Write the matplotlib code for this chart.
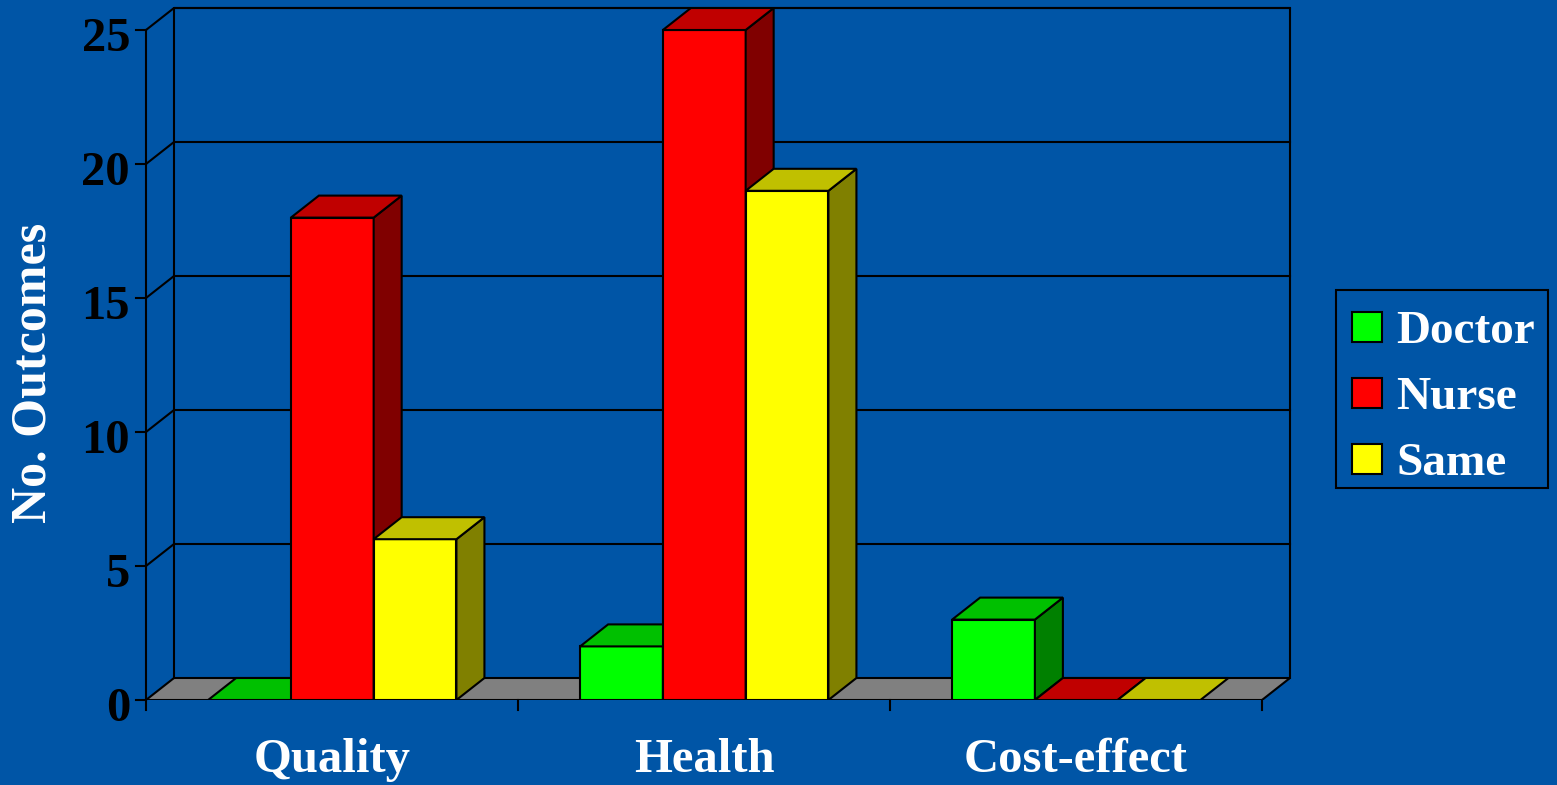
import numpy as np
import matplotlib
matplotlib.use("Agg")
import matplotlib.pyplot as plt
from matplotlib.patches import Polygon, Rectangle
from matplotlib.transforms import ScaledTranslation

# data
categories = ["Quality", "Health", "Cost-effect"]
series = ["Doctor", "Nurse", "Same"]
values = {
    "Doctor": [0, 2, 3],
    "Nurse": [18, 25, 0],
    "Same": [6, 19, 0],
}
y_ticks = [0, 5, 10, 15, 20, 25]

# face colours: front, top, side
face_colors = {
    "Doctor": ("#00FF00", "#00C000", "#008000"),
    "Nurse": ("#FF0000", "#C00000", "#800000"),
    "Same": ("#FFFF00", "#C0C000", "#808000"),
}

BG = "#0055A6"
W, H = 1557, 785
plt.rcParams["font.family"] = ["Liberation Serif", "DejaVu Serif"]
plt.rcParams["font.weight"] = "bold"

fig = plt.figure(figsize=(W / 100, H / 100), dpi=100, facecolor=BG)


def fx(px):
    return px / W


def fy(py):
    return 1 - py / H


def shift(px_x, px_y):
    # offset in pixels (screen y down) as a display translation
    return ScaledTranslation(px_x / 100, -px_y / 100, fig.dpi_scale_trans)


# axes: front plane x 146..1262, y 700..30; back wall shifted by (28, -22) px
ax = fig.add_axes([fx(146), fy(700), fx(1290) - fx(146), fy(8) - fy(700)])
ax.set_facecolor("none")
ax.axis("off")
ncat = len(categories)
ymax = 25
dx = 28 / ((1262 - 146) / ncat)
dy = 22 / ((700 - 30) / ymax)
ax.set_xlim(0, ncat + dx)
ax.set_ylim(0, ymax + dy)

lw = 1.5
k = dict(color="black", lw=lw, clip_on=False, solid_capstyle="projecting")

# floor
ax.add_patch(Polygon([(0, 0), (ncat, 0), (ncat + dx, dy), (dx, dy)], closed=True,
                     facecolor="#808080", edgecolor="black", lw=lw, zorder=1))

# back wall, side wall and gridlines
ax.plot([dx, dx, ncat + dx, ncat + dx], [dy, ymax + dy, ymax + dy, dy], zorder=1, **k)
ax.plot([0, 0], [0, ymax], zorder=1, **k)
for t in y_ticks[1:]:
    ax.plot([0, dx, ncat + dx], [t, t + dy, t + dy], zorder=1, **k)
    ax.plot([-10 / 372, 0], [t, t], zorder=1, **k)
ax.plot([-10 / 372, 0], [0, 0], zorder=1, **k)

# category ticks below the floor
for i in range(ncat + 1):
    ax.plot([i, i], [0, -10 / 26.8], zorder=1, **k)

# bars
offset = 0.167
bw = 0.2225
for ci in range(ncat):
    for si, s in enumerate(series):
        v = values[s][ci]
        x0 = ci + offset + si * bw
        x1 = x0 + bw
        front, top, side = face_colors[s]
        if v > 0:
            ax.add_patch(Rectangle((x0, 0), bw, v, facecolor=front,
                                   edgecolor="black", lw=lw, zorder=3))
            ax.add_patch(Polygon([(x1, 0), (x1 + dx, dy), (x1 + dx, v + dy), (x1, v)],
                                 closed=True, facecolor=side, edgecolor="black",
                                 lw=lw, zorder=3))
        ax.add_patch(Polygon([(x0, v), (x1, v), (x1 + dx, v + dy), (x0 + dx, v + dy)],
                             closed=True, facecolor=top, edgecolor="black",
                             lw=lw, zorder=3))

# tick labels
for t in y_ticks:
    ax.text(0, t, str(t), ha="right", va="baseline", fontsize=35,
            fontweight="bold", color="black", clip_on=False,
            transform=ax.transData + shift(-16, 21))
for ci, c in enumerate(categories):
    ax.text(ci + 0.5, 0, c, ha="center", va="baseline", fontsize=35,
            fontweight="bold", color="white", clip_on=False,
            transform=ax.transData + shift(0, 72))

fig.text(fx(34), fy(373), "No. Outcomes", rotation=90, ha="center", va="center",
         fontsize=36, fontweight="bold", color="white")

# legend
fig.patches.append(Rectangle((fx(1336), fy(488)), fx(1548) - fx(1336), fy(290) - fy(488),
                             transform=fig.transFigure, facecolor="none",
                             edgecolor="black", lw=lw))
for si, s in enumerate(series):
    top_y = 312 + si * 66
    fig.patches.append(Rectangle((fx(1352), fy(top_y + 30)), fx(30), 30 / H,
                                 transform=fig.transFigure, facecolor=face_colors[s][0],
                                 edgecolor="black", lw=lw))
    fig.text(fx(1396), fy(top_y + 31), s, ha="left", va="baseline", fontsize=34,
             fontweight="bold", color="white")

fig.savefig("out.png", dpi=100, facecolor=BG)
